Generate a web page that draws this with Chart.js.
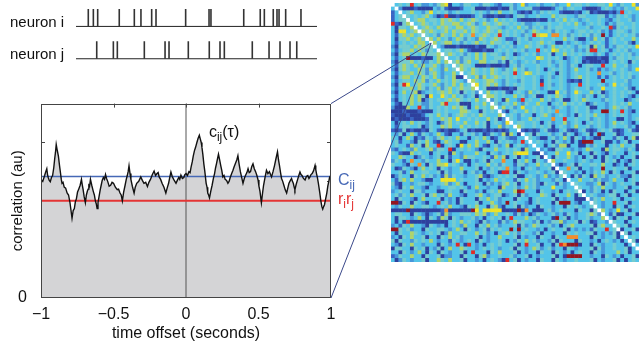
<!DOCTYPE html>
<html><head><meta charset="utf-8">
<script src="https://cdn.jsdelivr.net/npm/chart.js@4.4.1/dist/chart.umd.min.js"></script>
<style>
html,body{margin:0;padding:0;background:#fff;width:639px;height:347px;overflow:hidden;}
.abs{position:absolute;}
canvas{display:block;}
</style></head><body>
<canvas id="spikes" class="abs" style="left:0px;top:0px" width="330" height="70"></canvas>
<canvas id="corr" class="abs" style="left:0px;top:80px" width="380" height="267"></canvas>
<div id="mwrap" class="abs" style="left:391px;top:3px;width:248px;height:259px;overflow:hidden"><canvas id="matrix" width="260" height="259"></canvas></div>
<canvas id="overlay" class="abs" style="left:0px;top:0px;pointer-events:none" width="639" height="347"></canvas>
<script>
// ---------------- data ----------------
const spikeTimesI = [0.102,0.144,0.180,0.359,0.484,0.539,0.628,0.664,0.910,1.104,1.120,1.392,1.529,1.563,1.637,1.668,1.685,1.740,1.867];
const spikeTimesJ = [0.172,0.310,0.343,0.567,0.739,0.772,0.932,1.106,1.195,1.231,1.463,1.602,1.693,1.776,1.832];
const spikeWindow = [0, 2];
const neuronLabels = ['neuron i', 'neuron j'];

const lagSec = [-1.0,-0.988,-0.975,-0.967,-0.96,-0.955,-0.95,-0.943,-0.936,-0.928,
-0.92,-0.912,-0.905,-0.9,-0.895,-0.888,-0.88,-0.872,-0.865,-0.86,
-0.855,-0.848,-0.84,-0.83,-0.82,-0.81,-0.80,-0.793,-0.786,-0.778,
-0.77,-0.763,-0.756,-0.748,-0.74,-0.73,-0.721,-0.716,-0.71,-0.702,
-0.694,-0.687,-0.68,-0.675,-0.67,-0.665,-0.659,-0.65,-0.64,-0.632,
-0.625,-0.619,-0.613,-0.607,-0.6,-0.592,-0.585,-0.578,-0.57,-0.562,
-0.555,-0.548,-0.54,-0.53,-0.52,-0.51,-0.50,-0.487,-0.474,-0.465,
-0.455,-0.447,-0.439,-0.43,-0.42,-0.412,-0.405,-0.399,-0.393,-0.386,
-0.38,-0.37,-0.358,-0.35,-0.34,-0.326,-0.312,-0.301,-0.29,-0.278,
-0.266,-0.256,-0.245,-0.232,-0.22,-0.21,-0.2,-0.192,-0.185,-0.175,
-0.165,-0.152,-0.139,-0.13,-0.12,-0.112,-0.104,-0.095,-0.085,-0.077,
-0.069,-0.06,-0.05,-0.043,-0.035,-0.025,-0.015,-0.008,0.0,0.01,
0.02,0.028,0.035,0.043,0.05,0.058,0.066,0.075,0.083,0.092,
0.098,0.105,0.11,0.116,0.123,0.13,0.139,0.145,0.15,0.156,
0.162,0.171,0.18,0.189,0.197,0.204,0.21,0.217,0.224,0.232,
0.24,0.247,0.254,0.262,0.27,0.28,0.289,0.297,0.305,0.315,
0.324,0.332,0.34,0.35,0.358,0.366,0.375,0.384,0.393,0.402,
0.41,0.42,0.428,0.436,0.445,0.453,0.462,0.471,0.48,0.489,
0.497,0.503,0.51,0.515,0.52,0.528,0.535,0.545,0.555,0.565,
0.575,0.583,0.59,0.6,0.61,0.62,0.631,0.638,0.645,0.652,
0.659,0.667,0.675,0.685,0.694,0.702,0.71,0.72,0.728,0.734,
0.74,0.746,0.751,0.76,0.77,0.778,0.786,0.793,0.80,0.81,
0.821,0.83,0.84,0.848,0.855,0.862,0.87,0.88,0.89,0.895,
0.90,0.906,0.913,0.922,0.93,0.937,0.943,0.949,0.955,0.963,
0.971,0.978,0.985,0.99,0.994,1.0];
const corrVals = [6.1,6.0,6.3,6.5,6.65,6.35,6.2,6.05,5.98,6.2,
6.3,6.7,7.2,7.5,7.9,7.6,7.3,6.8,6.4,6.1,
5.9,5.95,5.7,5.65,5.4,5.3,4.9,4.5,4.1,4.5,
4.6,4.95,5.1,5.45,5.6,5.8,6.1,5.85,5.6,5.2,
4.9,5.3,5.5,5.6,5.8,5.75,6.1,5.8,5.5,5.3,
5.0,4.85,4.6,4.9,5.2,5.55,5.8,6.05,6.2,6.1,
6.35,6.15,6.0,5.75,5.8,5.95,5.9,5.7,5.57,5.6,
5.4,5.3,5.0,5.45,5.8,6.1,6.3,6.5,6.8,6.4,
6.1,5.75,5.4,5.7,5.9,6.0,6.23,6.05,5.9,5.95,
5.73,5.95,6.1,6.35,6.53,6.3,6.4,6.45,6.23,6.1,
5.9,5.7,5.4,5.65,5.9,6.2,6.48,6.25,6.1,6.0,
5.9,6.05,6.2,6.1,6.32,6.15,6.2,6.35,6.4,6.3,
6.5,6.45,6.73,7.0,7.3,7.57,7.75,8.0,8.2,8.37,
8.2,8.0,7.75,7.4,6.9,6.5,5.9,5.7,5.4,5.3,
5.15,5.5,5.8,6.15,6.4,6.7,6.9,7.15,7.4,7.1,
6.8,6.55,6.23,6.3,6.1,6.05,5.9,6.0,6.2,6.4,
6.57,6.75,6.9,7.1,7.32,6.9,6.5,6.2,5.9,6.15,
6.3,6.45,6.65,6.45,6.5,6.75,6.9,6.65,6.5,6.3,
6.07,5.75,5.5,5.2,4.9,5.4,5.8,6.2,6.57,6.4,
6.5,6.35,6.23,6.5,6.8,7.15,7.52,7.1,6.8,6.45,
6.15,6.0,5.8,5.55,5.4,5.65,5.9,6.05,6.15,6.0,
5.9,5.7,5.57,5.85,6.1,6.3,6.48,6.35,6.3,6.15,
6.07,6.25,6.3,6.15,6.23,6.35,6.4,6.55,6.82,6.6,
6.4,6.2,5.9,5.45,5.0,4.7,4.57,4.7,4.8,5.1,
5.4,5.75,6.0,6.2,6.15,6.07];
const meanCorr = 6.25;     // C_ij
const rateProduct = 5.0;   // r_i r_j
const xTickVals = [-1, -0.5, 0, 0.5, 1];
const xTickLabels = ['\u22121', '\u22120.5', '0', '0.5', '1'];
const yRange = [0, 10];
const yTickLabels = {0: '0'};

// correlation matrix, one char per cell (colour class 0..9), diagonal blank
const matrixRows = [
"3343483422 3245603324 4332443213 3423623342 3342336344 3433443632 43362342",
"3120001000 0324100013 3400010010 0423344110 0013423433 1000134323 24336343",
"1343453324 6343423433 3434324353 3431010324 3433100010 3401000102 83433234",
"1342434345 3201800100 0134100100 1034423343 3353443324 4333441324 34323433",
"1344534553 4435454353 4543423534 3431000010 0324353432 3433432134 33423436",
"8104543454 3435445534 5423543454 4343422343 3433434353 2343431324 43343342",
"3044354345 4354543553 4543354432 3435342434 2434433343 3423343814 34343324",
"3066345454 5434535445 3543454353 4343423543 3424343234 4343423134 43243423",
"3145453444 3425435353 4734543483 4343243856 6377342434 3424393134 34342343",
"3044534544 5353423542 4325434543 1124342334 3343353420 0325341343 43353433",
"3134343553 4534553424 3453435443 4304334345 3430032343 2343431343 34203423",
"2044435454 4532000100 0010043234 3423354343 2353434324 3405341324 43436343",
"3134453542 4353443453 1000100343 4343423383 4365343423 2488343134 34233403",
"2045534354 4453454342 4353534432 4302343423 3403353434 3432431343 43423430",
"3134900010 0354533424 4353533445 4343433365 3434302343 1000100324 43434343",
"2044453422 4353534524 5335534424 0432343423 3423432343 0100010343 43043234",
"3145435353 4532435454 4300010001 0342433343 3432432430 3443383353 34233430",
"2045433542 5432534354 3543435432 4353423343 0343432353 3423132343 43236343",
"3134453542 4532335353 4543435434 4383465343 3430432343 3433733423 43433410",
"2045534354 3532435002 4352534543 4343433432 3423432345 3433131343 43423343",
"3134435452 4353435432 4543455432 4332433430 3433431010 3433393343 34233353",
"2048634543 4532435353 4763454532 4343433438 3423432338 3433432363 43233433",
"3134453542 4352453454 4543400010 0104433432 3433432343 3423363343 34203433",
"2035345023 4345453404 3423353434 1034325343 3006342364 3353402343 43430034",
"3134353540 6336435342 3403355434 3353423400 3435432343 2430342343 43203435",
"2034353502 4343454543 4353432430 5332834335 3423400343 5433324343 30234343",
"3104353422 4335833400 0343533423 4353243353 3034353434 3024332343 43533004",
"2000533832 4343435454 0353435335 3423633434 3423432343 3400332354 34233433",
"0001000100 0343433355 4330434332 0343353434 3437332343 3423399343 83203433",
"1000100013 4353423454 3435433352 3432433034 5323432304 3435332343 43233353",
"0100010001 4335453633 4343353402 0432335343 3373383343 3423432330 03234343",
"3034353432 4302453435 3353403432 6634433430 3423352343 0343432353 43203343",
"3134433402 4335453353 4343403352 4365433434 3403432353 3423432343 34230343",
"1014010010 4310100134 0100101010 1334101013 4101341013 4101343410 13410134",
"3240353143 2353103314 3423014325 0530134043 3423414302 3403903340 13344302",
"4303530214 3245343533 0343530134 2113334320 0342353043 1320043314 30350432",
"3413320435 3103543300 3353353043 4323830343 2304323030 9993340031 34033353",
"3433153405 3380343063 5353103423 5034323833 0342550330 0324330343 53340033",
"2134325334 5244380343 4320433533 4343053342 3104433232 3543305344 32430343",
"4310053433 0343305323 3353304323 4356663003 2335336340 3304320343 30343323",
"3354330243 2340413325 4433431535 0340323340 3304335323 0340304323 03340353",
"2431373324 3353304630 0323404337 3304353043 2353343323 4323304340 32043304",
"4332043730 4355634323 0343353424 3314423353 4332023404 3344353302 30343340",
"3014320353 4304323353 3340324343 7323034323 3404337340 3323393343 34033423",
"3341353344 3340423340 3423034308 8304323343 2340343323 0324353043 03340353",
"0243304353 4231524332 3345102343 4340034323 5232433041 4305342334 22043340",
"3145353320 0336666343 3340323534 3314353423 3324304335 3342422353 30343304",
"4103323443 2334523530 3343042324 5340343420 4331423243 3223504323 43340343",
"3204353320 3323344343 1353323305 3342353423 3363323304 3324353323 34033343",
"2343304423 3300343304 3323034353 3359833304 3323034343 0324303043 30340353",
"3424353340 4534253320 3345323440 2340423335 4304335304 3343223440 34033304",
"3043320353 3340323043 3304353423 3304330343 3340323300 0324353343 03343320",
"9904304320 3383423043 3340335323 9343320343 3304999320 3304323383 34033343",
"3243353344 3234353320 4353304520 3340423304 3323304343 2340323304 30343353",
"0000900000 0001700000 0963666660 0009073000 3423433304 3304353236 34033423",
"3443304320 2341523344 4354523533 4314230243 2342314323 3454223140 03340323",
"3044323530 4315404323 3423034340 3833353423 3309340323 3423353304 34033304",
"3030800000 0000034353 4320423314 2354433240 3244523340 4301332243 30343423",
"2314353320 4323034325 3304353423 3340423543 3423034533 3340453304 34033353",
"9943423304 3344323530 4323414343 3939343323 0343340323 2314338343 03340323",
"3043354323 4340253344 3353423034 5342433240 3323304343 3440323240 34033304",
"2304353340 3304353423 3340323353 3340323304 3304337773 3304323340 36343423",
"4043324343 5323314323 4304323343 0324353423 3240433304 3323034323 03340343",
"3204353323 3304323830 8323034343 3340383340 3304879990 3304323343 30343423",
"0443304340 3240353354 3323434323 3404323542 3423304323 3340423343 34033353",
"3304323530 4304323340 3833304353 3340323304 3304323034 3304323335 34033304",
"1243353304 3340223304 3304523343 3423340323 3340309999 3323304323 03340393",
"3024323340 3354353340 3323034320 8340323304 3304323343 3340323340 30343320"
];
const matrixTarget = [10, 10]; // cell pointed at from the c_ij panel

// ---------------- styles ----------------
const FONT = '"Liberation Sans", Arial, Helvetica, sans-serif';
const palette = {
  '0':'rgb(46,64,158)', '1':'rgb(58,100,196)', '2':'rgb(72,150,218)', '3':'rgb(84,196,232)',
  '4':'rgb(118,204,206)', '5':'rgb(176,212,108)', '6':'rgb(238,226,40)', '7':'rgb(244,140,42)',
  '8':'rgb(224,42,38)', '9':'rgb(148,22,32)', 'W':'#ffffff'
};
const BLUE = 'rgb(70,104,182)', RED = 'rgb(228,52,52)';

// ---------------- spike trains ----------------
const SPIKE_H = 0.54;
function spikeSegments(times, base) {
  const d = [];
  times.forEach(t => { d.push({x:t, y:base}); d.push({x:t, y:base + SPIKE_H}); d.push({x:t, y:null}); });
  return d;
}
const spikeChart = new Chart(document.getElementById('spikes'), {
  type: 'line',
  data: { datasets: [
    { data: spikeSegments(spikeTimesI, 1), borderColor:'#333', borderWidth:1.6, pointRadius:0, spanGaps:false, borderCapStyle:'butt' },
    { data: spikeSegments(spikeTimesJ, 0), borderColor:'#333', borderWidth:1.6, pointRadius:0, spanGaps:false, borderCapStyle:'butt' },
    { data: [{x:spikeWindow[0], y:1}, {x:spikeWindow[1], y:1}], borderColor:'#222', borderWidth:1, pointRadius:0 },
    { data: [{x:spikeWindow[0], y:0}, {x:spikeWindow[1], y:0}], borderColor:'#222', borderWidth:1, pointRadius:0 }
  ]},
  options: {
    responsive:false, animation:false, events:[],
    layout:{ autoPadding:false, padding:{ left:76, right:13, top:7, bottom:8 } },
    plugins:{ legend:{display:false}, tooltip:{enabled:false} },
    scales:{
      x:{ type:'linear', min:spikeWindow[0], max:spikeWindow[1], display:false },
      y:{ type:'linear', min:-0.1, max:1.6, display:false }
    }
  },
  plugins:[{
    id:'neuronLabels',
    afterDraw(chart){
      const ctx = chart.ctx, y = chart.scales.y;
      ctx.save();
      ctx.font = '15px ' + FONT; ctx.fillStyle = '#111'; ctx.textBaseline = 'alphabetic'; ctx.textAlign = 'left';
      ctx.fillText(neuronLabels[0], 10, y.getPixelForValue(1) + 0.5);
      ctx.fillText(neuronLabels[1], 10, y.getPixelForValue(0) + 0.5);
      ctx.restore();
    }
  }]
});

// ---------------- correlation panel ----------------
function drawSub(ctx, x, y, parts, color) {
  ctx.fillStyle = color; ctx.textBaseline = 'alphabetic'; ctx.textAlign = 'left';
  parts.forEach(([t, size, dy]) => {
    ctx.font = size + 'px ' + FONT;
    ctx.fillText(t, x, y + dy);
    x += ctx.measureText(t).width;
  });
}
const corrPts = lagSec.map((x, i) => ({x, y: corrVals[i]}));
const corrChart = new Chart(document.getElementById('corr'), {
  type: 'line',
  data: { datasets: [
    { data: corrPts, fill:'origin', backgroundColor:'rgb(212,212,214)', borderWidth:0, borderColor:'rgba(0,0,0,0)', pointRadius:0, order:5 },
    { data: [{x:0, y:yRange[0]}, {x:0, y:yRange[1]}], borderColor:'#555', borderWidth:1, pointRadius:0, order:4 },
    { data: [{x:xTickVals[0], y:rateProduct}, {x:xTickVals[4], y:rateProduct}], borderColor:RED, borderWidth:2, pointRadius:0, order:3 },
    { data: [{x:xTickVals[0], y:meanCorr}, {x:xTickVals[4], y:meanCorr}], borderColor:BLUE, borderWidth:1.6, pointRadius:0, order:2 },
    { data: corrPts, fill:false, borderColor:'#111', borderWidth:1.4, pointRadius:0, tension:0, order:1 }
  ]},
  options: {
    responsive:false, animation:false, events:[],
    layout:{ autoPadding:false, padding:{ left:0, right:49, top:18, bottom:0 } },
    plugins:{ legend:{display:false}, tooltip:{enabled:false} },
    scales:{
      x:{
        type:'linear', min:xTickVals[0], max:xTickVals[4],
        afterBuildTicks: s => { s.ticks = xTickVals.map(v => ({value:v})); },
        ticks:{ callback:(v, i) => xTickLabels[i], font:{family:FONT, size:16}, color:'#111', padding:7, maxRotation:0, autoSkip:false },
        grid:{ display:false, drawTicks:false }, border:{ display:false },
        title:{ display:true, text:'time offset (seconds)', font:{family:FONT, size:16}, color:'#111', padding:{top:0, bottom:4} },
        afterFit: s => { s.height = 49; }
      },
      y:{
        type:'linear', min:yRange[0], max:yRange[1],
        ticks:{ stepSize:1, callback: v => (yTickLabels[v] !== undefined ? yTickLabels[v] : ''), font:{family:FONT, size:16}, color:'#111', padding:14 },
        grid:{ display:false, drawTicks:false }, border:{ display:false },
        title:{ display:true, text:'correlation (au)', font:{family:FONT, size:15}, color:'#111', padding:{top:9, bottom:0} },
        afterFit: s => { s.width = 41; }
      }
    }
  },
  plugins:[{
    id:'frameAndText',
    beforeDatasetsDraw(chart){
      const {ctx, chartArea:a, scales:{x, y}} = chart;
      ctx.save(); ctx.strokeStyle = '#444'; ctx.lineWidth = 1; ctx.beginPath();
      y.ticks.forEach(t => {
        if (t.value <= yRange[0] || t.value >= yRange[1]) return;
        const py = Math.round(y.getPixelForValue(t.value)) + 0.5;
        ctx.moveTo(a.left, py); ctx.lineTo(a.left + 4, py);
        ctx.moveTo(a.right, py); ctx.lineTo(a.right - 4, py);
      });
      x.ticks.forEach(t => {
        if (t.value <= xTickVals[0] || t.value >= xTickVals[4]) return;
        const px = Math.round(x.getPixelForValue(t.value)) + 0.5;
        ctx.moveTo(px, a.top); ctx.lineTo(px, a.top + 4);
        ctx.moveTo(px, a.bottom); ctx.lineTo(px, a.bottom - 4);
      });
      ctx.stroke(); ctx.restore();
    },
    afterDatasetsDraw(chart){
      const {ctx, chartArea:a, scales:{x, y}} = chart;
      ctx.save();
      ctx.strokeStyle = '#444'; ctx.lineWidth = 1;
      ctx.strokeRect(Math.round(a.left) + 0.5, Math.round(a.top) + 0.5, Math.round(a.right - a.left) - 1, Math.round(a.bottom - a.top) - 1);
      drawSub(ctx, x.getPixelForValue(0.158), y.getPixelForValue(8.3), [['c',16,0],['ij',12,4],['(\u03c4)',16,0]], '#111');
      drawSub(ctx, a.right + 7, y.getPixelForValue(meanCorr) + 8, [['C',16,0],['ij',12,4]], BLUE);
      drawSub(ctx, a.right + 7, y.getPixelForValue(rateProduct) + 3, [['r',16,0],['i',12,4],['r',16,0],['j',12,4]], RED);
      ctx.restore();
    }
  }]
});

// ---------------- matrix ----------------
const cells = [];
matrixRows.forEach((row, r) => {
  const s = row.replace(/ /g, '').padEnd(68, '3').slice(0, 68);
  for (let c = 0; c < s.length; c++) cells.push({x:c, y:r, k: r === c ? 'W' : s[c]});
});
const N = matrixRows.length;
const matrixChart = new Chart(document.getElementById('matrix'), {
  type: 'scatter',
  data: { datasets: [{
    data: cells, pointStyle:'rect', pointRadius:2.95, pointBorderWidth:0, borderWidth:0,
    pointBackgroundColor: ctx => palette[ctx.raw ? ctx.raw.k : '3'],
    backgroundColor: ctx => palette[ctx.raw ? ctx.raw.k : '3']
  }]},
  options: {
    responsive:false, animation:false, events:[],
    layout:{ autoPadding:false, padding:0 },
    plugins:{ legend:{display:false}, tooltip:{enabled:false} },
    scales:{
      x:{ type:'linear', min:-0.5, max:N - 0.5, display:false },
      y:{ type:'linear', min:-0.5, max:N - 0.5, reverse:true, display:false }
    }
  },
  plugins:[{
    id:'matrixBase',
    beforeDatasetsDraw(chart){
      const {ctx, chartArea:a} = chart;
      ctx.save(); ctx.fillStyle = palette['3'];
      ctx.fillRect(a.left, a.top, a.right - a.left, a.bottom - a.top);
      ctx.restore();
    }
  }]
});

// ---------------- connector lines ----------------
(function(){
  const oc = document.getElementById('overlay').getContext('2d');
  const cr = document.getElementById('corr').getBoundingClientRect();
  const mr = document.getElementById('matrix').getBoundingClientRect();
  const a = corrChart.chartArea;
  const tx = mr.left + matrixChart.scales.x.getPixelForValue(matrixTarget[0]);
  const ty = mr.top + matrixChart.scales.y.getPixelForValue(matrixTarget[1]);
  oc.strokeStyle = 'rgb(58,72,138)'; oc.lineWidth = 1;
  oc.beginPath();
  oc.moveTo(cr.left + a.right, cr.top + a.top); oc.lineTo(tx, ty);
  oc.moveTo(cr.left + a.right, cr.top + a.bottom); oc.lineTo(tx, ty);
  oc.stroke();
})();
</script>
</body></html>
